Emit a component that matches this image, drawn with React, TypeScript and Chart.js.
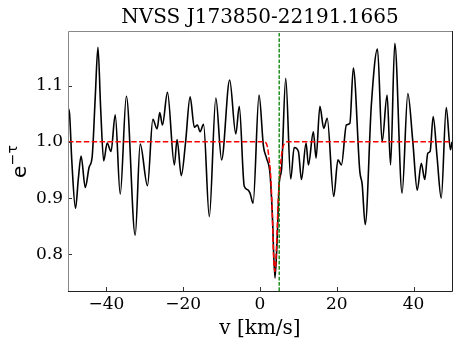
import { useEffect, useRef } from "react";
import { Chart, registerables } from "chart.js";

Chart.register(...registerables);

const chartTitle = "NVSS J173850-22191.1665";
const xAxisLabel = "v [km/s]";

// observed spectrum e^{-tau} vs velocity
const velocity = [
  -50, -49.6, -49.0, -48.05, -47.3, -46.6, -45.5, -44.5, -43.7, -42.9, -42.2, -41.5, -40.7, -39.8, -38.8,
  -37.7, -36.4, -34.8, -32.5, -31.2, -29.3, -27.9, -26.8, -26.1, -25.4, -24.1, -22.3, -21.6, -20.5, -19.4,
  -18.2, -17.1, -16.3, -15.6, -14.7, -13.2, -11.5, -10.0, -7.9, -6.3, -5.4, -4.1, -3.2, -2.6, -1.8,
  -0.25, 0.9, 1.7, 2.6, 3.2, 3.9, 4.6, 5.0, 5.6, 6.7, 8.0, 8.9, 10.0, 10.8, 12.0,
  12.6, 13.9, 14.6, 15.6, 16.6, 17.5, 19.2, 20.3, 21.2, 22.5, 23.4, 24.3, 26.0, 26.6, 27.4,
  29.0, 30.6, 31.8, 33.1, 34.0, 35.1, 37.0, 38.5, 39.8, 40.95, 42.0, 42.9, 43.7, 44.3, 45.1,
  46.1, 47.2, 48.5, 49.6, 50.0,
];
const expTau = [
  1.060, 1.050, 0.965, 0.882, 0.935, 0.975, 0.919, 0.955, 0.974, 1.080, 1.168, 1.060, 0.966, 0.998, 0.983,
  1.048, 0.907, 1.081, 0.834, 0.996, 0.922, 1.040, 1.023, 1.052, 1.030, 1.088, 0.959, 1.004, 0.940, 0.998,
  1.080, 1.026, 1.030, 1.018, 1.031, 0.867, 1.078, 0.968, 1.110, 1.014, 1.063, 0.921, 0.915, 0.909, 0.891,
  1.083, 0.992, 0.971, 0.944, 0.873, 0.758, 0.850, 0.927, 0.950, 1.113, 0.934, 0.990, 0.983, 0.933, 0.998,
  0.959, 1.018, 0.971, 1.063, 1.024, 1.042, 0.903, 0.968, 0.959, 1.030, 1.033, 1.131, 0.947, 0.925, 0.853,
  1.066, 1.165, 1.000, 1.083, 0.959, 1.175, 0.909, 1.086, 1.000, 0.914, 0.962, 0.933, 0.980, 0.983, 1.045,
  0.974, 0.900, 1.061, 0.986, 1.000,
];

// fitted absorption profile (red dashed)
const fitVelocity = [-50, 1.2, 1.9, 2.4, 2.8, 3.2, 3.5, 3.9, 4.3, 4.75, 5.3, 5.9, 6.5, 7.0, 50];
const fitValues = [1.0, 1.0, 0.992, 0.968, 0.938, 0.873, 0.802, 0.770, 0.814, 0.897, 0.956, 0.989, 0.998, 1.0, 1.0];

// vertical marker (green dashed)
const markerVelocity = [5.0, 5.0];

const xTicks = [-40, -20, 0, 20, 40];
const yTicks = [0.8, 0.9, 1.0, 1.1];
const xRange = [-50, 50];
const yRange = [0.735, 1.197];

const framePlugin = {
  id: "frameAndTicks",
  afterDraw(chart: any) {
    const { ctx, chartArea } = chart;
    const { left, right, top, bottom } = chartArea;
    const xs = chart.scales.x;
    const ys = chart.scales.y;
    ctx.save();
    // ticks (inward)
    ctx.strokeStyle = "#333";
    ctx.lineWidth = 1;
    ctx.beginPath();
    xTicks.forEach((v) => {
      const px = Math.round(xs.getPixelForValue(v)) + 0.5;
      ctx.moveTo(px, bottom);
      ctx.lineTo(px, bottom - 4);
    });
    yTicks.forEach((v) => {
      const py = Math.round(ys.getPixelForValue(v)) + 0.5;
      ctx.moveTo(left, py);
      ctx.lineTo(left + 4, py);
    });
    ctx.stroke();
    // frame
    ctx.lineWidth = 1;
    ctx.strokeStyle = "#888";
    ctx.beginPath();
    ctx.moveTo(left + 0.5, bottom);
    ctx.lineTo(left + 0.5, top + 0.5);
    ctx.lineTo(right, top + 0.5);
    ctx.stroke();
    ctx.strokeStyle = "#222";
    ctx.beginPath();
    ctx.moveTo(right + 0.5, top);
    ctx.lineTo(right + 0.5, bottom + 0.5);
    ctx.lineTo(left, bottom + 0.5);
    ctx.stroke();
    // y-axis label e^{-tau}
    ctx.fillStyle = "#000";
    ctx.translate(26, 178);
    ctx.rotate(-Math.PI / 2);
    ctx.textBaseline = "alphabetic";
    ctx.textAlign = "left";
    ctx.font = "20px 'DejaVu Sans'";
    ctx.fillText("e", 0, 0);
    const w = ctx.measureText("e").width;
    ctx.font = "14px 'DejaVu Sans'";
    ctx.fillText("\u2212\u03c4", w + 0.5, -9);
    ctx.restore();
  },
};

export default function App() {
  const canvasRef = useRef<HTMLCanvasElement | null>(null);

  useEffect(() => {
    document.body.style.margin = "0";
    const canvas = canvasRef.current;
    if (!canvas) return;
    const serif = "'DejaVu Serif'";
    const chart = new Chart(canvas, {
      type: "line",
      data: {
        datasets: [
          {
            data: markerVelocity.map((x, i) => ({ x, y: yRange[i] })),
            borderColor: "#008000",
            borderWidth: 1.3,
            borderDash: [3.7, 1.6],
            pointRadius: 0,
            fill: false,
            order: 1,
          },
          {
            data: fitVelocity.map((x, i) => ({ x, y: fitValues[i] })),
            borderColor: "#ff0000",
            borderWidth: 1.5,
            borderDash: [5.5, 2.4],
            pointRadius: 0,
            fill: false,
            cubicInterpolationMode: "monotone",
            order: 2,
          },
          {
            data: velocity.map((x, i) => ({ x, y: expTau[i] })),
            borderColor: "#000000",
            borderWidth: 1.6,
            pointRadius: 0,
            fill: false,
            cubicInterpolationMode: "monotone",
            order: 3,
          },
        ],
      },
      options: {
        animation: false,
        responsive: false,
        maintainAspectRatio: false,
        layout: { padding: { left: 0, right: 11, top: 0, bottom: 0 } },
        plugins: {
          legend: { display: false },
          tooltip: { enabled: false },
          title: {
            display: true,
            text: chartTitle,
            fullSize: false,
            color: "#000",
            font: { family: serif, size: 20, weight: "normal" },
            padding: { top: 6, bottom: 1 },
          },
        },
        scales: {
          x: {
            type: "linear",
            min: xRange[0],
            max: xRange[1],
            afterBuildTicks: (s: any) => {
              s.ticks = xTicks.map((value) => ({ value }));
            },
            afterFit: (s: any) => {
              s.height = 56;
            },
            ticks: {
              color: "#000",
              font: { family: serif, size: 17 },
              padding: 3,
              maxRotation: 0,
              autoSkip: false,
              callback: (v: any) => (Number(v) < 0 ? "\u2212" + Math.abs(Number(v)) : String(v)),
            },
            grid: { display: false, drawTicks: false },
            border: { display: false },
            title: {
              display: true,
              text: xAxisLabel,
              color: "#000",
              font: { family: serif, size: 20 },
              padding: { top: 0, bottom: 6 },
            },
          },
          y: {
            type: "linear",
            min: yRange[0],
            max: yRange[1],
            afterBuildTicks: (s: any) => {
              s.ticks = yTicks.map((value) => ({ value }));
            },
            afterFit: (s: any) => {
              s.width = 68;
            },
            ticks: {
              color: "#000",
              font: { family: serif, size: 17 },
              padding: 5,
              autoSkip: false,
              callback: (v: any) => Number(v).toFixed(1),
            },
            grid: { display: false, drawTicks: false },
            border: { display: false },
          },
        },
      },
      plugins: [framePlugin],
    } as any);
    return () => chart.destroy();
  }, []);

  return (
    <div style={{ width: 463, height: 347 }}>
      <canvas ref={canvasRef} width={463} height={347} />
    </div>
  );
}
